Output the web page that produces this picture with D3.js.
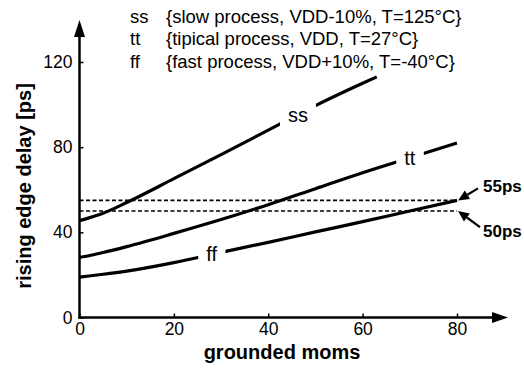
<!DOCTYPE html>
<html>
<head>
<meta charset="utf-8">
<script src="https://cdn.jsdelivr.net/npm/d3@7"></script>
<style>
  body { margin: 0; background: #fff; }
  text { font-family: "Liberation Sans", Arial, sans-serif; fill: #000; }
</style>
</head>
<body>
<div id="wrapper"></div>
<script>
// values
const ssMoms = [0, 2, 5, 10, 20, 30, 40, 50, 60, 63];
const ssDelay = [45.5, 46.8, 49, 54, 65.2, 76.5, 88, 99.5, 110, 113];
const ttMoms = [0, 2, 5, 10, 20, 30, 40, 50, 60, 70, 80];
const ttDelay = [28.3, 29, 30.5, 33.3, 39.5, 46, 53, 60.5, 68, 75, 82];
const ffMoms = [0, 2, 5, 10, 20, 30, 40, 50, 60, 70, 80];
const ffDelay = [19, 19.5, 20.3, 21.8, 25.8, 30.6, 35.3, 40.2, 45, 50, 55];

const xTicks = [0, 20, 40, 60, 80];
const yTicks = [0, 40, 80, 120];

const legendKeys = ["ss", "tt", "ff"];
const legendTexts = [
  "{slow process, VDD-10%, T=125°C}",
  "{tipical process, VDD, T=27°C}",
  "{fast process, VDD+10%, T=-40°C}"
];
// where the curve names sit on the curves
const curveLabelMoms = [46.3, 70, 28];

const limitValues = [55, 50];
const limitLabels = ["55ps", "50ps"];

let dimensions = {
  width: 524,
  height: 377,
  margin: { top: 62, right: 67, bottom: 59.5, left: 79.5 },
};
dimensions.boundedWidth = dimensions.width - dimensions.margin.left - dimensions.margin.right;
dimensions.boundedHeight = dimensions.height - dimensions.margin.top - dimensions.margin.bottom;

const svg = d3.select("#wrapper").append("svg")
  .attr("width", dimensions.width)
  .attr("height", dimensions.height);

const bounds = svg.append("g")
  .attr("transform", `translate(${dimensions.margin.left},${dimensions.margin.top})`);

const xScale = d3.scaleLinear().domain([0, 80]).range([0, dimensions.boundedWidth]);
const yScale = d3.scaleLinear().domain([0, 120]).range([dimensions.boundedHeight, 0]);

// dashed limit lines
limitValues.forEach(v => {
  bounds.append("line")
    .attr("x1", xScale(0)).attr("x2", xScale(80))
    .attr("y1", yScale(v)).attr("y2", yScale(v))
    .attr("stroke", "#000")
    .attr("stroke-width", 1.6)
    .attr("stroke-dasharray", "4,2.5");
});

const lineGenerator = d3.line()
  .x(d => xScale(d[0]))
  .y(d => yScale(d[1]))
  .curve(d3.curveMonotoneX);

const series = [
  { key: "ss", pts: d3.zip(ssMoms, ssDelay) },
  { key: "tt", pts: d3.zip(ttMoms, ttDelay) },
  { key: "ff", pts: d3.zip(ffMoms, ffDelay) },
];

series.forEach((s, i) => {
  bounds.append("path")
    .attr("d", lineGenerator(s.pts))
    .attr("fill", "none")
    .attr("stroke", "#000")
    .attr("stroke-width", 3.2);

  const mx = curveLabelMoms[i];
  const my = d3.scaleLinear().domain(s.pts.map(d => d[0])).range(s.pts.map(d => d[1]))(mx);
  const g = bounds.append("g").attr("transform", `translate(${xScale(mx)},${yScale(my)})`);
  const bg = g.append("rect").attr("fill", "#fff");
  const t = g.append("text")
    .attr("text-anchor", "middle")
    .attr("dy", "0.35em")
    .style("font-size", "20px")
    .text(s.key);
  const bb = t.node().getBBox();
  bg.attr("x", bb.x - 8).attr("y", bb.y - 4)
    .attr("width", bb.width + 16).attr("height", bb.height + 8);
});

// axes
const xAxisGenerator = d3.axisBottom(xScale)
  .tickValues(xTicks)
  .tickSizeInner(-4)
  .tickSizeOuter(0)
  .tickPadding(5);
const yAxisGenerator = d3.axisLeft(yScale)
  .tickValues(yTicks)
  .tickSizeInner(-4)
  .tickSizeOuter(0)
  .tickPadding(7);

const xAxis = bounds.append("g")
  .attr("transform", `translate(0,${dimensions.boundedHeight})`)
  .call(xAxisGenerator);
const yAxis = bounds.append("g").call(yAxisGenerator);

[xAxis, yAxis].forEach(a => {
  a.select(".domain").remove();
  a.selectAll(".tick line").attr("stroke", "#000").attr("stroke-width", 1.5);
  a.selectAll(".tick text")
    .style("font-family", '"Liberation Sans", Arial, sans-serif')
    .style("font-size", "17.5px")
    .attr("fill", "#000");
});

// axis lines with arrows
const x0 = xScale(0), y0 = yScale(0);
const yTop = yScale(120) - 42;
const xEnd = xScale(80) + 51;
bounds.append("line")
  .attr("x1", x0).attr("x2", x0).attr("y1", y0 + 1).attr("y2", yTop + 12)
  .attr("stroke", "#000").attr("stroke-width", 2.5);
bounds.append("path")
  .attr("d", `M${x0},${yTop} L${x0 - 5.5},${yTop + 17} L${x0 + 5.5},${yTop + 17} Z`)
  .attr("fill", "#000");
bounds.append("line")
  .attr("x1", x0 - 1.2).attr("x2", xEnd - 10).attr("y1", y0).attr("y2", y0)
  .attr("stroke", "#000").attr("stroke-width", 2.5);
bounds.append("path")
  .attr("d", `M${xEnd},${y0} L${xEnd - 16},${y0 - 5.5} L${xEnd - 16},${y0 + 5.5} Z`)
  .attr("fill", "#000");

// axis titles
svg.append("text")
  .attr("x", 282).attr("y", 359)
  .attr("text-anchor", "middle")
  .style("font-size", "20px")
  .style("font-weight", "bold")
  .text("grounded moms");
svg.append("text")
  .attr("transform", "translate(31,186) rotate(-90)")
  .attr("text-anchor", "middle")
  .style("font-size", "20px")
  .style("font-weight", "bold")
  .text("rising edge delay [ps]");

// legend
legendKeys.forEach((k, i) => {
  const yy = 23 + i * 22.3;
  svg.append("text").attr("x", 130).attr("y", yy).style("font-size", "18.5px").text(k);
  svg.append("text").attr("x", 166).attr("y", yy).style("font-size", "18.5px").text(legendTexts[i]);
});

// limit annotations with arrows
const arrowOffsets = [[20, -12], [22, 16]];
limitValues.forEach((v, i) => {
  const tx = xScale(80) + 1, ty = yScale(v);
  const [dx, dy] = arrowOffsets[i];
  const len = Math.hypot(dx, dy);
  const ux = dx / len, uy = dy / len;
  const head = 11, hw = 5;
  const bx = tx + ux * head, by = ty + uy * head;
  bounds.append("line")
    .attr("x1", bx).attr("y1", by)
    .attr("x2", tx + dx).attr("y2", ty + dy)
    .attr("stroke", "#000").attr("stroke-width", 2.2);
  bounds.append("path")
    .attr("d", `M${tx},${ty} L${bx - uy * hw},${by + ux * hw} L${bx + uy * hw},${by - ux * hw} Z`)
    .attr("fill", "#000");
  bounds.append("text")
    .attr("x", tx + 25).attr("y", ty + dy + (i === 0 ? 4 : 10))
    .style("font-size", "17px")
    .style("font-weight", "bold")
    .text(limitLabels[i]);
});
</script>
</body>
</html>
